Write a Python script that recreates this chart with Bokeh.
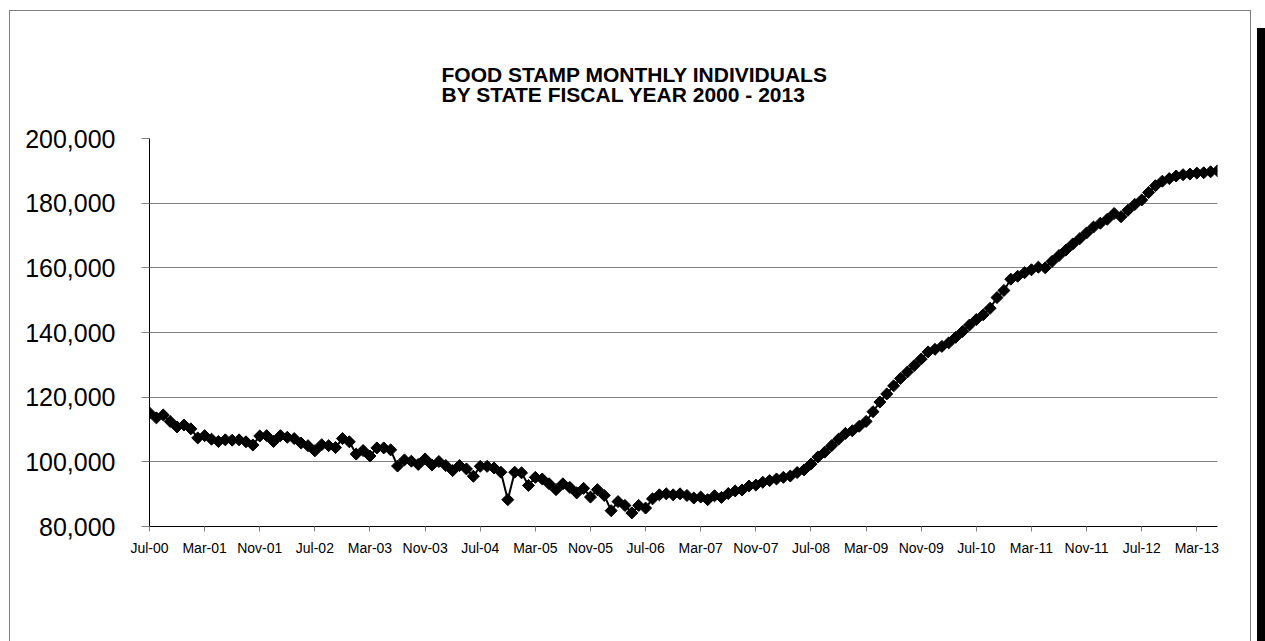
import numpy as np
import pandas as pd
from bokeh.plotting import figure
from bokeh.models import (Range1d, FixedTicker, NumeralTickFormatter, ColumnDataSource)
from bokeh.embed import file_html
from bokeh.resources import INLINE

# ---------------- data ----------------
start_month = "2000-07-01"
n_months = 156
months = [d.strftime("%b-%y") for d in pd.date_range(start_month, periods=n_months, freq="MS")]

individuals = [
    115100, 113600, 114500, 112500, 110800, 111400, 110200, 107400, 108100, 107000,
    106300, 106800, 106700, 106800, 106200, 105200, 108000, 108100, 106300, 108100,
    107600, 107200, 105800, 105000, 103400, 105300, 105000, 104400, 107200, 106200,
    102400, 103500, 101800, 104300, 104300, 103700, 98700, 100600, 100200, 99200,
    100900, 99000, 100100, 98850, 97300, 98850, 97800, 95550, 98600, 98600,
    98100, 96800, 88300, 96800, 96600, 92700, 95200, 94700, 93200, 91400,
    93200, 92100, 90400, 91800, 89100, 91400, 89600, 84900, 87700, 86500,
    84200, 86500, 85700, 88550, 89800, 90100, 89800, 90100, 89600, 88800,
    89100, 88300, 89500, 89000, 90200, 91000, 91300, 92500, 92800, 93700,
    94200, 94700, 95200, 95600, 96700, 97500, 99300, 101500, 103000, 105000,
    107000, 108800, 109600, 111000, 112500, 115500, 118500, 121000, 123500, 125800,
    127800, 129800, 131800, 134000, 134800, 135700, 136800, 138500, 140300, 142300,
    144000, 145500, 147500, 150800, 153000, 156500, 157400, 158500, 159400, 160200,
    160000, 162000, 163800, 165500, 167400, 169000, 170800, 172600, 173800, 175000,
    176800, 175800, 177800, 179600, 181000, 183300, 185400, 186800, 187600, 188400,
    188800, 189000, 189300, 189400, 189700, 190000,
]

tick_step = 8
tick_positions = list(range(0, n_months, tick_step))
tick_labels = [months[i] for i in tick_positions]   # Jul-00, Mar-01, ... Mar-13
y_ticks = [80000, 100000, 120000, 140000, 160000, 180000, 200000]

title_lines = ["FOOD STAMP MONTHLY INDIVIDUALS", "BY STATE FISCAL YEAR 2000 - 2013"]

# ---------------- figure ----------------
W, H = 1265, 641
ML, MR, MT, MB = 149, 48, 138, 115
FONT = "Liberation Sans"
TITLE_PX = 21

# chart-area border (thin grey) and the dark strip at the right, drawn as CSS backgrounds
frame_css = {
    "background-image": ("linear-gradient(#000,#000), linear-gradient(#808080,#808080), "
                         "linear-gradient(#808080,#808080), linear-gradient(#808080,#808080)"),
    "background-repeat": "no-repeat",
    "background-position": "1257px 28px, 9px 10px, 9px 10px, 1250px 10px",
    "background-size": "8px 700px, 1px 700px, 1242px 1px, 1px 700px",
}

src = ColumnDataSource(dict(x=list(range(n_months)), y=individuals, month=months))

p = figure(width=W, height=H, output_backend="svg", toolbar_location=None,
           x_range=Range1d(0, n_months - 1), y_range=Range1d(y_ticks[0], y_ticks[-1]),
           min_border_left=ML, min_border_right=MR, min_border_top=MT, min_border_bottom=MB,
           styles=frame_css)
p.outline_line_color = None
p.background_fill_color = None
p.border_fill_color = None

# x axis
p.xaxis.ticker = FixedTicker(ticks=tick_positions)
p.xaxis.major_label_overrides = {i: lab for i, lab in zip(tick_positions, tick_labels)}
p.xaxis.major_label_text_font = FONT
p.xaxis.major_label_text_font_size = "14px"
p.xaxis.major_label_text_color = "black"
p.xaxis.major_label_standoff = 8
p.xaxis.axis_line_color = "black"
p.xaxis.axis_line_width = 1
p.xaxis.major_tick_line_color = "#808080"
p.xaxis.major_tick_out = 5
p.xaxis.major_tick_in = 0
p.xaxis.minor_tick_line_color = None
p.xgrid.grid_line_color = None

# y axis
p.yaxis.ticker = FixedTicker(ticks=y_ticks)
p.yaxis.formatter = NumeralTickFormatter(format="0,0")
p.yaxis.major_label_text_font = FONT
p.yaxis.major_label_text_font_size = "25px"
p.yaxis.major_label_text_color = "black"
p.yaxis.major_label_standoff = 26
p.yaxis.axis_line_color = "black"
p.yaxis.major_tick_line_color = "#808080"
p.yaxis.major_tick_out = 8
p.yaxis.major_tick_in = 0
p.yaxis.minor_tick_line_color = None
p.ygrid.grid_line_color = "#808080"
p.ygrid.grid_line_width = 1

# series
p.line("x", "y", source=src, line_color="black", line_width=2)
p.scatter("x", "y", source=src, marker="square", size=8.5, angle=np.pi / 4,
          fill_color="black", line_color="black")

# two-line title, placed left-aligned with an offset so the block is centred near x=632
p.title.text = "\n".join(title_lines)
p.title.align = "left"
p.title.offset = 292
p.title.standoff = 65
p.title.text_font = FONT
p.title.text_font_style = "bold"
p.title.text_font_size = f"{TITLE_PX}px"
p.title.text_color = "black"
p.title.text_line_height = 0.88

open("out.html", "w").write(file_html(p, INLINE))
